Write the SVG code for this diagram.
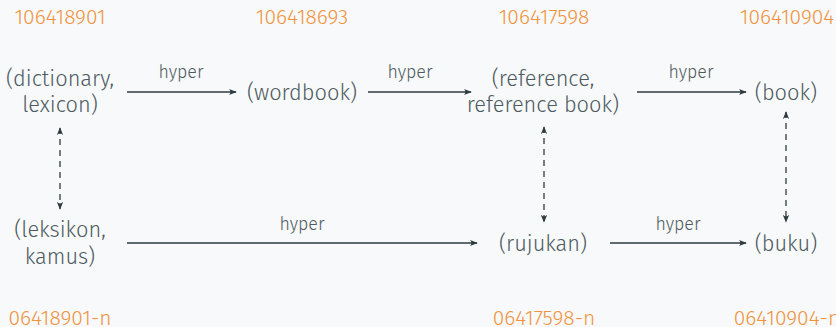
<svg xmlns="http://www.w3.org/2000/svg" width="836" height="327" viewBox="0 0 836 327">
  <style>
    .bg { fill: #f8f9fa; }
    .id { font-family: "Fira Sans", "Open Sans", "Noto Sans", sans-serif; font-weight: 300; font-size: 21px; fill: #f0933e; text-anchor: middle; }
    .node { font-family: "Fira Sans", "Open Sans", "Noto Sans", sans-serif; font-weight: 300; font-size: 21.8px; fill: #4d5a60; text-anchor: middle; }
    .lbl { font-family: "Fira Sans", "Open Sans", "Noto Sans", sans-serif; font-weight: 300; font-size: 17.8px; fill: #4d5a60; text-anchor: middle; }
    .edge { stroke: #2f3b40; stroke-width: 1.3; fill: none; }
    .dash { stroke: #2f3b40; stroke-width: 1.3; fill: none; stroke-dasharray: 6 5; }
  </style>
  <defs>
    <marker id="head" viewBox="0 0 10 10" refX="9" refY="5" markerWidth="8" markerHeight="8" markerUnits="userSpaceOnUse" orient="auto-start-reverse">
      <path d="M0,1 Q4,5 0,9 L10,5 Z" fill="#2f3b40"/>
    </marker>
  </defs>
  <rect class="bg" x="0" y="0" width="836" height="327"/>

  <!-- synset ids, top row -->
  <g id="ids-top">
    <text class="id" x="60" y="24">106418901</text>
    <text class="id" x="302" y="24">106418693</text>
    <text class="id" x="544" y="24">106417598</text>
    <text class="id" x="787" y="24">106410904</text>
  </g>

  <!-- synset ids, bottom row -->
  <g id="ids-bottom">
    <text class="id" x="60" y="325">06418901-n</text>
    <text class="id" x="544" y="325">06417598-n</text>
    <text class="id" x="787" y="325">06410904-n</text>
  </g>

  <g id="n-dictionary">
    <text class="node" x="60" y="86">(dictionary,</text>
    <text class="node" x="60" y="112">lexicon)</text>
  </g>
  <g id="n-wordbook">
    <text class="node" x="302" y="100">(wordbook)</text>
  </g>
  <g id="n-reference">
    <text class="node" x="543" y="86">(reference,</text>
    <text class="node" x="543" y="112">reference book)</text>
  </g>
  <g id="n-book">
    <text class="node" x="786" y="100">(book)</text>
  </g>
  <g id="n-leksikon">
    <text class="node" x="60" y="237">(leksikon,</text>
    <text class="node" x="60" y="264">kamus)</text>
  </g>
  <g id="n-rujukan">
    <text class="node" x="543" y="251">(rujukan)</text>
  </g>
  <g id="n-buku">
    <text class="node" x="786" y="251">(buku)</text>
  </g>

  <g id="connectors">
    <line class="edge" x1="127" y1="92" x2="236" y2="92" marker-end="url(#head)"/>
    <text class="lbl" x="181" y="78">hyper</text>
    <line class="edge" x1="368" y1="92" x2="471" y2="92" marker-end="url(#head)"/>
    <text class="lbl" x="410" y="78">hyper</text>
    <line class="edge" x1="637" y1="92" x2="746" y2="92" marker-end="url(#head)"/>
    <text class="lbl" x="691" y="78">hyper</text>
    <line class="edge" x1="127" y1="243" x2="477" y2="243" marker-end="url(#head)"/>
    <text class="lbl" x="302" y="230">hyper</text>
    <line class="edge" x1="610" y1="243" x2="746" y2="243" marker-end="url(#head)"/>
    <text class="lbl" x="678" y="230">hyper</text>

    <line class="dash" x1="60" y1="128" x2="60" y2="209" marker-start="url(#head)" marker-end="url(#head)"/>
    <line class="dash" x1="544" y1="127" x2="544" y2="222" marker-start="url(#head)" marker-end="url(#head)"/>
    <line class="dash" x1="786" y1="112" x2="786" y2="222" marker-start="url(#head)" marker-end="url(#head)"/>
  </g>
</svg>
